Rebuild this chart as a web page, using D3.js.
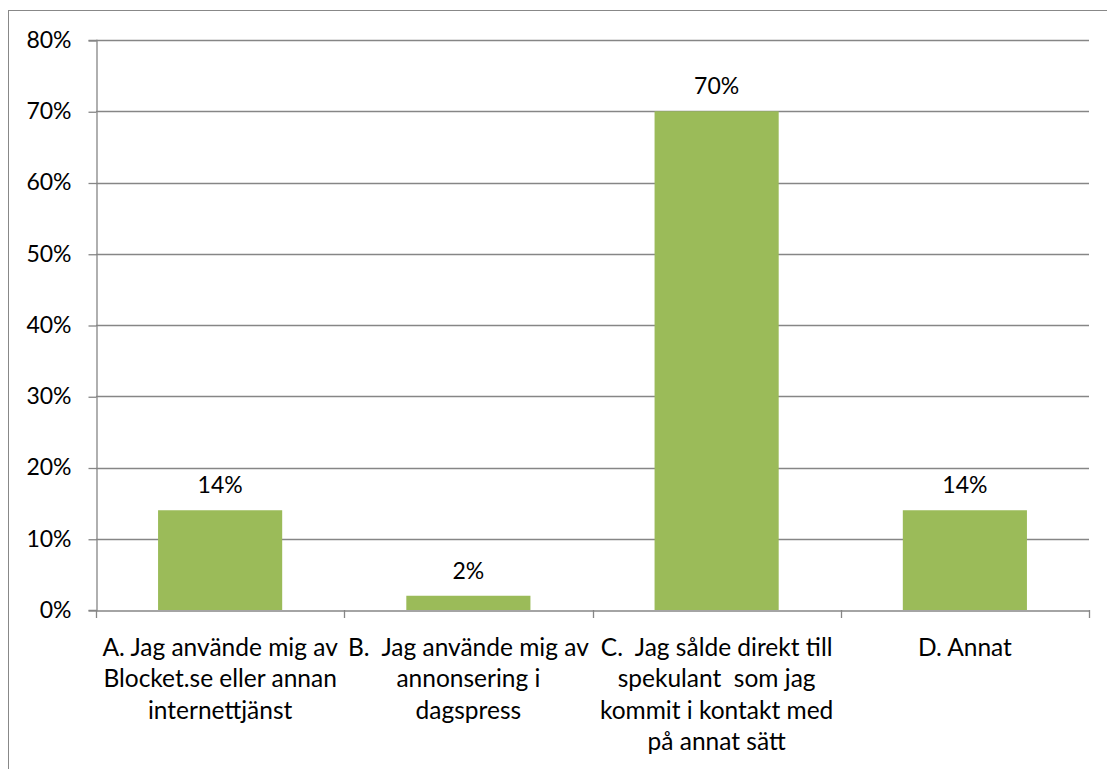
<!DOCTYPE html>
<html>
<head>
<meta charset="utf-8">
<script src="https://cdn.jsdelivr.net/npm/d3@7"></script>
<style>
  html, body { margin: 0; padding: 0; background: #fff; }
  svg { display: block; }
  text { font-family: Lato, "Open Sans", sans-serif; fill: #000; }
</style>
</head>
<body>
<svg id="chart" width="1107" height="769"></svg>
<script>
const categories = ["A", "B", "C", "D"];
const categoryLabels = [
  ["A. Jag använde mig av", "Blocket.se eller annan", "internettjänst"],
  ["B.  Jag använde mig av", "annonsering i", "dagspress"],
  ["C.  Jag sålde direkt till", "spekulant  som jag", "kommit i kontakt med", "på annat sätt"],
  ["D. Annat"]
];
const values = [0.14, 0.02, 0.70, 0.14];
const yTicks = [0, 0.1, 0.2, 0.3, 0.4, 0.5, 0.6, 0.7, 0.8];

const svg = d3.select("#chart");
const pLeft = 96, pRight = 1089, pTop = 40, pBottom = 610;
const fsNum = 23, fsCat = 24.5;

// outer chart border
svg.append("rect")
  .attr("x", 8.5).attr("y", 10.5)
  .attr("width", 1120).attr("height", 800)
  .attr("fill", "none").attr("stroke", "#888").attr("stroke-width", 1);

const x = d3.scaleBand().domain(categories).range([pLeft, pRight]).paddingInner(0.5).paddingOuter(0.25);
const y = d3.scaleLinear().domain([0, 0.8]).range([pBottom, pTop]);

// gridlines
svg.append("g").selectAll("line").data(yTicks.filter(d => d > 0)).join("line")
  .attr("x1", pLeft).attr("x2", pRight)
  .attr("y1", d => Math.round(y(d)) + 0.5).attr("y2", d => Math.round(y(d)) + 0.5)
  .attr("stroke", "#868686").attr("stroke-width", 1.3);

// y axis
const yAxis = d3.axisLeft(y).tickValues(yTicks).tickFormat(d3.format(".0%")).tickSize(8).tickPadding(17);
const gy = svg.append("g").attr("transform", `translate(${pLeft + 0.5},0)`).call(yAxis);
gy.select(".domain").attr("stroke", "#868686").attr("stroke-width", 1.3);
gy.selectAll(".tick line").attr("stroke", "#868686").attr("stroke-width", 1.3)
  .attr("transform", "translate(0,0.5)");
gy.selectAll(".tick text").style("font-size", fsNum + "px").attr("fill", "#000")
  .style("font-family", "Lato, sans-serif");

// bars
svg.append("g").selectAll("rect").data(values).join("rect")
  .attr("x", (d, i) => x(categories[i]))
  .attr("width", x.bandwidth())
  .attr("y", d => y(d))
  .attr("height", d => y(0) - y(d))
  .attr("fill", "#9BBB59");

// x axis
const bandStep = (pRight - pLeft) / categories.length;
const xAxis = d3.axisBottom(x).tickSize(0).tickFormat("");
const gx = svg.append("g").attr("transform", `translate(0,${pBottom + 0.5})`).call(xAxis);
gx.select(".domain").attr("stroke", "#868686").attr("stroke-width", 1.3);
// category boundary ticks
const boundaries = d3.range(categories.length + 1).map(i => pLeft + i * bandStep);
svg.append("g").selectAll("line").data(boundaries).join("line")
  .attr("x1", d => Math.round(d) + 0.5).attr("x2", d => Math.round(d) + 0.5)
  .attr("y1", pBottom).attr("y2", pBottom + 8)
  .attr("stroke", "#868686").attr("stroke-width", 1.3);

// category labels
const lbl = svg.append("g").selectAll("text").data(categoryLabels).join("text")
  .attr("text-anchor", "middle")
  .style("font-size", fsCat + "px")
  .attr("transform", (d, i) => `translate(${x(categories[i]) + x.bandwidth() / 2},656)`);
lbl.selectAll("tspan").data(d => d).join("tspan")
  .attr("x", 0).attr("y", (d, i) => i * 31.3)
  .style("white-space", "pre")
  .text(d => d);

// value labels
svg.append("g").selectAll("text").data(values).join("text")
  .attr("text-anchor", "middle")
  .style("font-size", fsNum + "px")
  .attr("x", (d, i) => x(categories[i]) + x.bandwidth() / 2)
  .attr("y", d => y(d) - 17)
  .text(d => d3.format(".0%")(d));
</script>
</body>
</html>
